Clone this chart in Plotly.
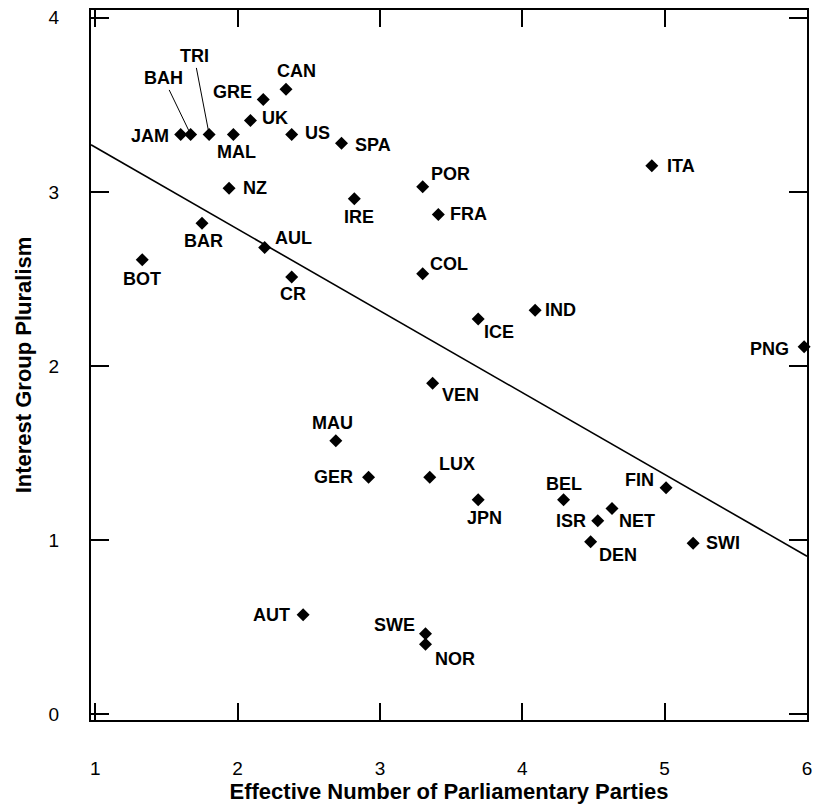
import numpy as np
import plotly.graph_objects as go

# ---- data ----
countries = ["JAM", "BAH", "TRI", "MAL", "UK", "GRE", "CAN", "US", "SPA", "NZ",
             "BAR", "IRE", "AUL", "BOT", "CR", "POR", "FRA", "COL", "ICE", "IND",
             "ITA", "PNG", "VEN", "MAU", "GER", "LUX", "JPN", "AUT", "SWE", "NOR",
             "BEL", "FIN", "NET", "ISR", "DEN", "SWI"]
eff_parties = [1.60, 1.67, 1.80, 1.97, 2.09, 2.18, 2.34, 2.38, 2.73, 1.94,
               1.75, 2.82, 2.19, 1.33, 2.38, 3.30, 3.41, 3.30, 3.69, 4.09,
               4.91, 5.98, 3.37, 2.69, 2.92, 3.35, 3.69, 2.46, 3.32, 3.32,
               4.29, 5.01, 4.63, 4.53, 4.48, 5.20]
pluralism = [3.33, 3.33, 3.33, 3.33, 3.41, 3.53, 3.59, 3.33, 3.28, 3.02,
             2.82, 2.96, 2.68, 2.61, 2.51, 3.03, 2.87, 2.53, 2.27, 2.32,
             3.15, 2.11, 1.90, 1.57, 1.36, 1.36, 1.23, 0.57, 0.46, 0.40,
             1.23, 1.30, 1.18, 1.11, 0.99, 0.98]

x_ticks = [1, 2, 3, 4, 5, 6]
y_ticks = [0, 1, 2, 3, 4]

# ---- layout / style ----
X_RANGE = [0.97, 6.0]
Y_RANGE = [-0.035, 4.045]

# label placement: (xanchor, xshift px, dy px downward)
label_pos = {
    "JAM": ("right", -10, 2), "MAL": ("center", 3, 18), "UK": ("left", 10, -3),
    "GRE": ("right", -9, -8), "CAN": ("center", 10, -18), "US": ("left", 11, -1),
    "SPA": ("left", 11, 2), "NZ": ("left", 12, 0), "BAR": ("center", 1, 18),
    "IRE": ("center", 5, 18), "AUL": ("left", 8, -10), "BOT": ("center", 0, 19),
    "CR": ("center", 1, 17), "POR": ("left", 6, -13), "FRA": ("left", 10, 0),
    "COL": ("left", 5, -10), "ICE": ("left", 4, 13), "IND": ("left", 8, 0),
    "ITA": ("left", 13, 0), "PNG": ("right", -13, 2), "VEN": ("left", 7, 12),
    "MAU": ("center", -3, -18), "GER": ("right", -14, 0), "LUX": ("left", 7, -13),
    "JPN": ("center", 6, 18), "AUT": ("right", -11, 0), "SWE": ("right", -9, -9),
    "NOR": ("left", 7, 15), "BEL": ("center", 0, -16), "FIN": ("right", -10, -8),
    "NET": ("left", 5, 12), "ISR": ("right", -10, 0), "DEN": ("left", 6, 13),
    "SWI": ("left", 11, 0),
}
leader_pos = {"BAH": (-27, -56), "TRI": (-15, -78)}

LABEL_FONT = dict(family="Liberation Sans, Arial, sans-serif", size=18, color="black")

# regression line (OLS on the data)
slope, intercept = np.polyfit(eff_parties, pluralism, 1)
fit_x = np.array(X_RANGE)
fit_y = intercept + slope * fit_x

fig = go.Figure()
fig.add_trace(go.Scatter(x=fit_x, y=fit_y, mode="lines",
                         line=dict(color="black", width=1.6),
                         hoverinfo="skip", showlegend=False, cliponaxis=True))
fig.add_trace(go.Scatter(x=eff_parties, y=pluralism, mode="markers",
                         marker=dict(symbol="diamond", size=10, color="black"),
                         text=countries, showlegend=False, cliponaxis=False))

annotations = []
for c, xv, yv in zip(countries, eff_parties, pluralism):
    if c in leader_pos:
        ax, ay = leader_pos[c]
        annotations.append(dict(x=xv, y=yv, text="<b>%s</b>" % c, showarrow=True,
                                arrowhead=0, arrowwidth=1, arrowcolor="black",
                                ax=ax, ay=ay, standoff=3, font=LABEL_FONT))
    else:
        anchor, dx, dy = label_pos[c]
        annotations.append(dict(x=xv, y=yv, text="<b>%s</b>" % c, showarrow=False,
                                xanchor=anchor, yanchor="middle",
                                xshift=dx, yshift=-dy, font=LABEL_FONT))

TICK_FONT = dict(family="Liberation Sans, Arial, sans-serif", size=19, color="black")
TITLE_FONT = dict(family="Liberation Sans, Arial, sans-serif", size=22, color="black")

fig.update_layout(
    width=823, height=806,
    margin=dict(l=91, r=16, t=10, b=86, autoexpand=False),
    paper_bgcolor="white", plot_bgcolor="white",
    annotations=annotations,
    xaxis=dict(range=X_RANGE, tickvals=x_ticks, ticktext=[str(v) for v in x_ticks],
               ticks="inside", ticklen=17, tickwidth=1.6, tickcolor="black",
               showline=True, linecolor="black", linewidth=2, mirror="ticks",
               showgrid=False, zeroline=False, tickfont=TICK_FONT,
               ticklabelstandoff=30,
               title=dict(text="<b>Effective Number of Parliamentary Parties</b>",
                          font=TITLE_FONT, standoff=3)),
    yaxis=dict(range=Y_RANGE, tickvals=y_ticks, ticktext=[str(v) for v in y_ticks],
               ticks="inside", ticklen=18, tickwidth=1.6, tickcolor="black",
               showline=True, linecolor="black", linewidth=2, mirror="ticks",
               showgrid=False, zeroline=False, tickfont=TICK_FONT,
               ticklabelstandoff=26,
               title=dict(text="<b>Interest Group Pluralism</b>",
                          font=TITLE_FONT, standoff=11)),
)

fig.write_html("out.html")
